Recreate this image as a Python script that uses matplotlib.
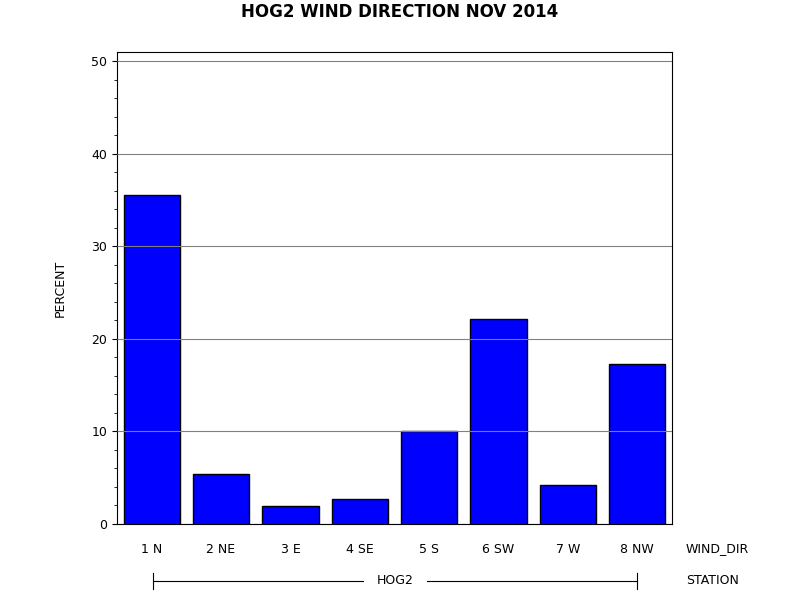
import matplotlib
matplotlib.use("Agg")
import matplotlib.pyplot as plt
from matplotlib.ticker import MultipleLocator

categories = ["1 N", "2 NE", "3 E", "4 SE", "5 S", "6 SW", "7 W", "8 NW"]
percent = [35.5, 5.4, 1.9, 2.7, 10.0, 22.1, 4.2, 17.3]
station = "HOG2"

fig = plt.figure(figsize=(8, 6), dpi=100)
ax = fig.add_axes([117/800, 1-524/600, 555/800, 472/600])
x = range(len(categories))
ax.bar(x, percent, width=0.81, color="#0000ff", edgecolor="black", linewidth=1, zorder=2)
ax.set_xlim(-0.5, len(categories)-0.5)
ax.set_ylim(0, 51)
ax.yaxis.set_major_locator(MultipleLocator(10))
ax.yaxis.set_minor_locator(MultipleLocator(2))
ax.grid(axis="y", color="#808080", linewidth=0.8, zorder=3)
ax.set_axisbelow(False)
ax.set_xticks(list(x))
ax.set_xticklabels(categories, fontsize=9)
ax.tick_params(axis="x", length=0, pad=14)
ax.tick_params(axis="y", labelsize=9, direction="out")
ax.set_ylabel("PERCENT", fontsize=9, labelpad=18)
fig.text(0.5, 1-12/600, "HOG2 WIND DIRECTION NOV 2014", ha="center", va="center",
         fontsize=12, fontweight="bold")
fig.text(686/800, 1-549/600, "WIND_DIR", ha="left", va="center", fontsize=9)
fig.text(686/800, 1-581/600, "STATION", ha="left", va="center", fontsize=9)
y = 1-581/600
fig.text(395/800, y, station, ha="center", va="center", fontsize=9)
fig.add_artist(plt.Line2D([153/800, 363/800], [y, y], color="black", lw=0.8))
fig.add_artist(plt.Line2D([427/800, 637/800], [y, y], color="black", lw=0.8))
for xx in (153/800, 637/800):
    fig.add_artist(plt.Line2D([xx, xx], [y-8/600, y+8/600], color="black", lw=0.8))
fig.savefig("out.png", dpi=100)
